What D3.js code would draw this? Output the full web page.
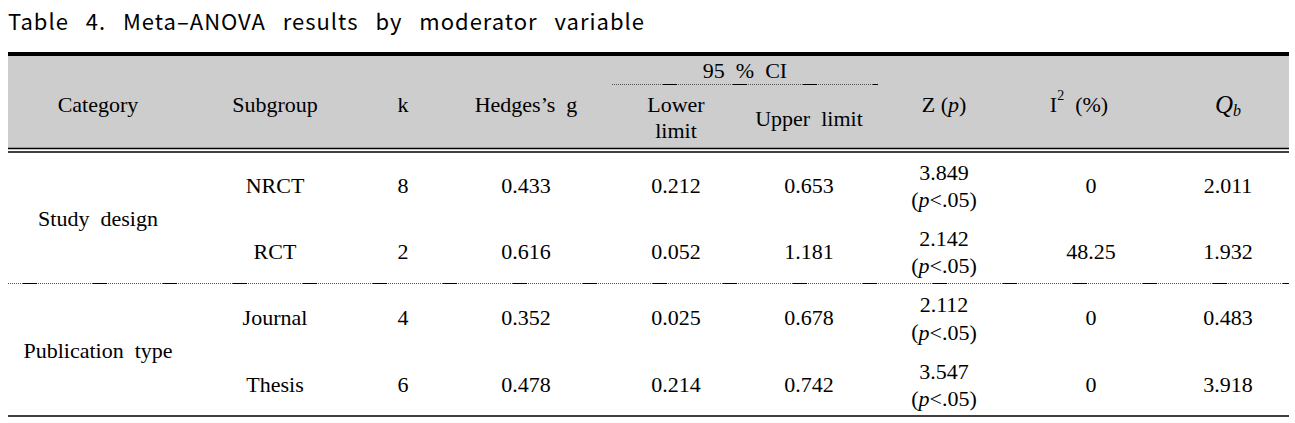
<!DOCTYPE html>
<html>
<head>
<meta charset="utf-8">
<script src="https://cdn.jsdelivr.net/npm/d3@7"></script>
<style>
  body { margin: 0; background: #fff; }
  svg { display: block; }
  text { white-space: pre; }
</style>
</head>
<body>
<div id="chart"></div>
<script>
const width = 1295;
const height = 423;

// table data
const categories = ["Study  design", "Publication  type"];
const subgroups = ["NRCT", "RCT", "Journal", "Thesis"];
const subgroupCategory = [0, 0, 1, 1];
const kValues = [8, 2, 4, 6];
const hedgesG = [0.433, 0.616, 0.352, 0.478];
const lowerLimit = [0.212, 0.052, 0.025, 0.214];
const upperLimit = [0.653, 1.181, 0.678, 0.742];
const zValues = [3.849, 2.142, 2.112, 3.547];
const pLabels = ["<.05", "<.05", "<.05", "<.05"];
const i2Values = ["0", "48.25", "0", "0"];
const qbValues = [2.011, 1.932, 0.483, 3.918];

const columns = ["category", "subgroup", "k", "g", "lower", "upper", "z", "i2", "qb"];

const left = 8, right = 1289;
const serif = "'Liberation Serif', 'Times New Roman', serif";
const fmt = d3.format(".3f");

const x = d3.scaleOrdinal()
  .domain(columns)
  .range([98, 275, 403, 526, 676, 809, 944, 1091, 1228]);

const y = d3.scalePoint()
  .domain(subgroups)
  .range([185, 384]);

const svg = d3.select("#chart")
  .append("svg")
  .attr("width", width)
  .attr("height", height);

// title
svg.append("text")
  .attr("x", left)
  .attr("y", 30)
  .attr("font-family", "'Noto Sans CJK KR', 'Noto Sans', sans-serif")
  .attr("font-size", 22)
  .attr("letter-spacing", 1)
  .attr("word-spacing", 11)
  .attr("fill", "#000")
  .text("Table 4. Meta–ANOVA results by moderator variable");

// header band
svg.append("rect")
  .attr("x", left).attr("y", 56)
  .attr("width", right - left).attr("height", 92)
  .attr("fill", "#cdcdcd");

function hline(y0, w, opts = {}) {
  return svg.append("line")
    .attr("x1", opts.x1 ?? left).attr("x2", opts.x2 ?? right)
    .attr("y1", y0).attr("y2", y0)
    .attr("stroke", opts.color ?? "#000")
    .attr("stroke-width", w)
    .attr("stroke-dasharray", opts.dash ?? null)
    .attr("stroke-dashoffset", opts.offset ?? null);
}

hline(54, 4);
hline(148.5, 1.5);
hline(152, 1.5);
hline(416, 1.5);

// dotted rule with short solid segments every 70px
function dottedRule(y0, x1, x2, firstSolid) {
  hline(y0, 1, { x1, x2, dash: "1,1", color: "#555" });
  hline(y0, 1, { x1, x2, dash: "14,56", offset: 70 - firstSolid });
}
dottedRule(84.5, 612, 878, 51);
dottedRule(283.5, left, right, 15);

function cell(parent, cx, cy, size = 22) {
  return parent.append("text")
    .attr("x", cx)
    .attr("y", cy)
    .attr("text-anchor", "middle")
    .attr("dominant-baseline", "central")
    .attr("font-family", serif)
    .attr("font-size", size)
    .attr("fill", "#000");
}

// header
const head = svg.append("g");
cell(head, x("category"), 104).text("Category");
cell(head, x("subgroup"), 104).text("Subgroup");
cell(head, x("k"), 104).text("k");
cell(head, x("g"), 104).text("Hedges’s  g");
cell(head, 745, 70).text("95  %  CI");
cell(head, x("lower"), 104).text("Lower");
cell(head, x("lower"), 130).text("limit");
cell(head, x("upper"), 118).text("Upper  limit");
const zt = cell(head, x("z"), 104).text("Z (");
zt.append("tspan").attr("font-style", "italic").text("p");
zt.append("tspan").text(")");
const it = cell(head, 1079, 104).text("I");
it.append("tspan").attr("font-size", 14).attr("dy", -9).text("2");
it.append("tspan").attr("dy", 9).text("  (%)");
const qt = cell(head, x("qb"), 104, 25).attr("font-style", "italic").text("Q");
qt.append("tspan").attr("font-size", 16).attr("dy", 6).text("b");

// category labels, centered between their subgroups
const body = svg.append("g");
categories.forEach((c, ci) => {
  const rows = subgroups.filter((s, i) => subgroupCategory[i] === ci);
  const cy = d3.mean(rows, (s) => y(s));
  cell(body, x("category"), cy).text(c);
});

// rows
subgroups.forEach((s, i) => {
  const cy = y(s);
  cell(body, x("subgroup"), cy).text(s);
  cell(body, x("k"), cy).text(kValues[i]);
  cell(body, x("g"), cy).text(fmt(hedgesG[i]));
  cell(body, x("lower"), cy).text(fmt(lowerLimit[i]));
  cell(body, x("upper"), cy).text(fmt(upperLimit[i]));
  cell(body, x("z"), cy - 13).text(fmt(zValues[i]));
  const p = cell(body, x("z"), cy + 14).text("(");
  p.append("tspan").attr("font-style", "italic").text("p");
  p.append("tspan").text(pLabels[i] + ")");
  cell(body, x("i2"), cy).text(i2Values[i]);
  cell(body, x("qb"), cy).text(fmt(qbValues[i]));
});
</script>
</body>
</html>
